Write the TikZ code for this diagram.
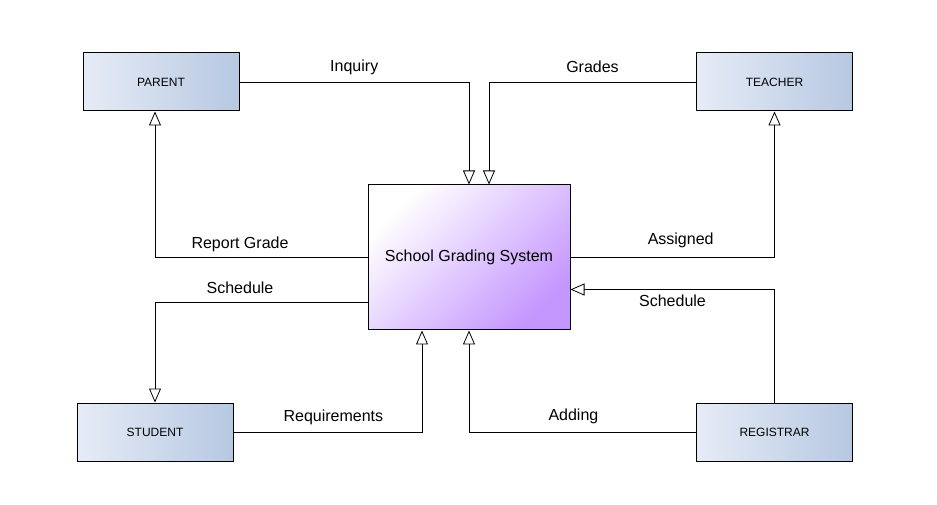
\documentclass[tikz,border=0pt]{standalone}
\usepackage{fontspec}
\setmainfont{Liberation Sans}
\usepackage{xcolor}
\usepackage{tikz}
\usetikzlibrary{arrows.meta, positioning, calc}
\definecolor{boxleft}{RGB}{230,236,246}
\definecolor{boxright}{RGB}{183,200,226}
\definecolor{sysmid}{RGB}{226,206,252}
\definecolor{sysdark}{RGB}{196,150,255}
\tikzstyle{entity} = [rectangle, minimum width=117pt, minimum height=43.5pt, text centered, draw=black, line width=0.75pt, left color=boxleft, right color=boxright, font=\fontsize{9}{11}\selectfont]
\tikzstyle{system} = [rectangle, minimum width=151.5pt, minimum height=108.75pt, text centered, draw=black, line width=0.75pt, top color=white, middle color=sysmid, bottom color=sysdark, shading angle=45, font=\fontsize{12}{14}\selectfont]
\tikzstyle{flow} = [line width=0.6pt, -{Triangle[open, length=10.5pt, width=9pt]}]
\tikzstyle{lbl} = [font=\fontsize{12}{14}\selectfont, inner sep=2pt]

\begin{document}
\begin{tikzpicture}[x=0.75pt, y=-0.75pt]
\useasboundingbox (0,0) rectangle (937,505);

% Entities
\node (parent) [entity] at (161,82) {PARENT};
\node (teacher) [entity] at (774.5,82) {TEACHER};
\node (student) [entity] at (155,432) {STUDENT};
\node (registrar) [entity] at (774.5,432) {REGISTRAR};

% Main process
\node (sys) [system] at (469,257.5) {School Grading System};

% Flows
\draw [flow] (parent.east) -| node[lbl, pos=0.25, above=3pt] {Inquiry} (sys.north);
\draw [flow] (teacher.west) -| node[lbl, pos=0.25, above=5pt] {Grades} ([xshift=15pt]sys.north);
\draw [flow] (sys.west) -| node[lbl, pos=0.3, above=2pt] {Report Grade} ([xshift=-4.5pt]parent.south);
\draw [flow] (sys.east) -| node[lbl, pos=0.27, above=5pt] {Assigned} (teacher.south);
\draw [flow] ([yshift=-33.75pt]sys.west) -| node[lbl, pos=0.3, above=4pt] {Schedule} (student.north);
\draw [flow] (registrar.north) |- node[lbl, pos=0.75, below=2pt] {Schedule} ([yshift=-24pt]sys.east);
\draw [flow] (student.east) -| node[lbl, pos=0.265, above=3pt] {Requirements} ([xshift=-35.25pt]sys.south);
\draw [flow] (registrar.west) -| node[lbl, pos=0.27, above=4pt] {Adding} (sys.south);

\end{tikzpicture}
\end{document}
